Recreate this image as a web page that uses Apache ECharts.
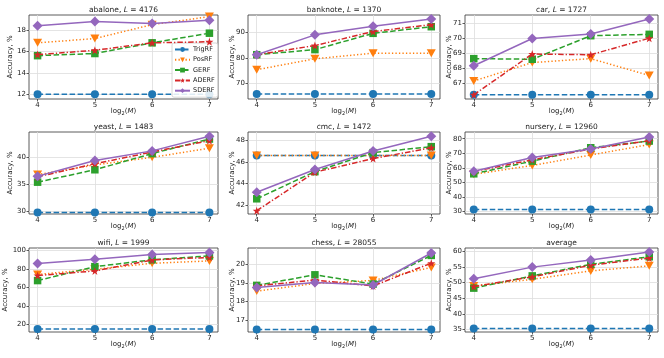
<!DOCTYPE html>
<html>
<head>
<meta charset="utf-8">
<script src="https://cdn.jsdelivr.net/npm/echarts@6/dist/echarts.min.js"></script>
<style>
  html, body { margin: 0; padding: 0; background: #ffffff; }
  #chart { width: 664px; height: 358px; }
</style>
</head>
<body>
<div id="chart"></div>
<script>
  "use strict";

  var M_LOG = [4, 5, 6, 7];
  var METHODS = ["TrigRF", "PosRF", "GERF", "ADERF", "SDERF"];
  var DATASETS = ["abalone", "banknote", "car", "yeast", "cmc", "nursery", "wifi", "chess", "average"];
  var SIZES = [4176, 1370, 1727, 1483, 1472, 12960, 1999, 28055, null];

  // accuracy, % (rows follow METHODS order)
  var abalone  = [[12.0, 12.0, 12.0, 12.0], [16.8, 17.2, 18.5, 19.25], [15.6, 15.8, 16.8, 17.7], [15.7, 16.1, 16.8, 16.9], [18.4, 18.8, 18.6, 18.9]];
  var banknote = [[65.8, 65.8, 65.8, 65.8], [75.3, 79.6, 81.8, 81.8], [81.2, 83.2, 89.6, 92.2], [81.2, 84.8, 90.3, 93.0], [81.2, 89.0, 92.4, 95.2]];
  var car      = [[66.23, 66.23, 66.23, 66.23], [67.15, 68.38, 68.64, 67.52], [68.64, 68.6, 70.17, 70.26], [66.23, 68.95, 68.9, 70.0], [68.17, 69.98, 70.29, 71.29]];
  var yeast    = [[29.8, 29.8, 29.8, 29.8], [36.8, 38.6, 40.0, 41.7], [35.4, 37.7, 40.7, 43.4], [36.4, 38.8, 41.0, 43.1], [36.5, 39.4, 41.2, 43.9]];
  var cmc      = [[46.58, 46.58, 46.58, 46.58], [46.58, 46.58, 46.58, 46.58], [42.6, 45.1, 46.85, 47.4], [41.5, 45.05, 46.3, 47.3], [43.2, 45.3, 47.0, 48.36]];
  var nursery  = [[31.4, 31.4, 31.4, 31.4], [55.6, 61.6, 68.8, 76.0], [55.9, 64.6, 73.8, 78.4], [57.5, 65.5, 73.0, 78.6], [57.7, 67.1, 73.0, 81.2]];
  var wifi     = [[15.2, 15.2, 15.2, 15.2], [74.0, 79.6, 86.0, 88.6], [67.4, 82.4, 89.8, 94.0], [72.8, 77.8, 89.6, 92.4], [85.8, 90.4, 95.4, 97.6]];
  var chess    = [[16.49, 16.49, 16.49, 16.49], [18.57, 18.98, 19.15, 19.85], [18.88, 19.45, 18.95, 20.5], [18.85, 19.17, 18.85, 20.08], [18.76, 19.04, 18.9, 20.63]];
  var average  = [[35.3, 35.3, 35.3, 35.3], [48.9, 51.0, 53.7, 55.3], [48.2, 52.1, 55.8, 58.2], [48.7, 51.8, 55.5, 57.8], [51.2, 54.9, 57.2, 59.7]];
  var VALUES = [abalone, banknote, car, yeast, cmc, nursery, wifi, chess, average];

  var X_TICKS = [4, 5, 6, 7];
  var Y_TICKS = [
    [12, 14, 16, 18],
    [70, 80, 90],
    [67, 68, 69, 70, 71],
    [30, 35, 40],
    [42, 44, 46, 48],
    [30, 40, 50, 60, 70, 80],
    [20, 40, 60, 80, 100],
    [17, 18, 19, 20],
    [35, 40, 45, 50, 55, 60]
  ];
  var Y_LIMITS = [
    [11.55, 19.4], [63.8, 96.8], [65.95, 71.55],
    [29.5, 44.7], [41.2, 48.75], [28.3, 84.6],
    [12, 102.5], [16.36, 20.9], [34.2, 61]
  ];

  var COL_LEFT = [29, 248, 465];
  var COL_WIDTH = [189, 192, 193];
  var ROW_TOP = [15, 132, 248];
  var ROW_HEIGHT = [84, 82, 84];

  var STAR = "path://M0,-10 L2.35,-3.24 L9.51,-3.09 L3.8,1.24 L5.88,8.09 L0,4 L-5.88,8.09 L-3.8,1.24 L-9.51,-3.09 L-2.35,-3.24 Z";
  var TRI_DOWN = "path://M0,0 L10,0 L5,9 Z";

  var STYLES = [
    { color: "#1f77b4", symbol: "circle", size: 8, dash: [5.5, 2.5] },
    { color: "#ff7f0e", symbol: TRI_DOWN, size: [9, 8], dash: [1.3, 2.2] },
    { color: "#2ca02c", symbol: "rect", size: 7.5, dash: [5.5, 2.5] },
    { color: "#d62728", symbol: STAR, size: 8, dash: [5.5, 2, 1.3, 2] },
    { color: "#9467bd", symbol: "diamond", size: 10, dash: "solid" }
  ];

  var FONT = "DejaVu Sans";
  var TXT = "#222222";
  var FS = 7;

  function titleText(i) {
    if (SIZES[i] == null) return "{n|" + DATASETS[i] + "}";
    return "{n|" + DATASETS[i] + ", }{i|L}{n| = " + SIZES[i] + "}";
  }

  var grids = [], xAxes = [], yAxes = [], titles = [], series = [];

  DATASETS.forEach(function (name, i) {
    var r = Math.floor(i / 3), c = i % 3;
    grids.push({
      left: COL_LEFT[c], top: ROW_TOP[r], width: COL_WIDTH[c], height: ROW_HEIGHT[r],
      show: true, borderColor: "#333333", borderWidth: 0.8, containLabel: false
    });
    titles.push({
      text: titleText(i),
      left: COL_LEFT[c] + COL_WIDTH[c] / 2,
      top: ROW_TOP[r] - 9,
      textAlign: "center",
      padding: 0,
      textStyle: {
        fontWeight: "normal",
        rich: {
          n: { fontFamily: FONT, fontSize: 7.5, color: TXT, fontWeight: "normal" },
          i: { fontFamily: FONT, fontSize: 7.5, color: TXT, fontWeight: "normal", fontStyle: "italic" }
        }
      }
    });
    xAxes.push({
      gridIndex: i, type: "value", min: 3.85, max: 7.15,
      name: "log{s|2}({i|M})", nameLocation: "middle", nameGap: 8, nameMoveOverlap: false,
      nameTextStyle: {
        fontFamily: FONT, fontSize: FS, color: TXT,
        rich: {
          n: { fontFamily: FONT, fontSize: FS, color: TXT },
          s: { fontFamily: FONT, fontSize: 5, color: TXT, verticalAlign: "bottom", padding: [4, 0, 0, 0] },
          i: { fontFamily: FONT, fontSize: FS, color: TXT, fontStyle: "italic" }
        }
      },
      axisLine: { show: false },
      axisTick: { show: true, inside: false, length: 2.5, customValues: X_TICKS, lineStyle: { color: "#333333", width: 0.8 } },
      axisLabel: { customValues: X_TICKS, fontFamily: FONT, fontSize: FS, color: TXT, margin: 3 },
      splitLine: { show: true, lineStyle: { color: "#dddddd", width: 0.8 } }
    });
    yAxes.push({
      gridIndex: i, type: "value", min: Y_LIMITS[i][0], max: Y_LIMITS[i][1],
      name: "Accuracy, %", nameLocation: "middle", nameGap: c === 0 ? 11 : 12, nameMoveOverlap: c === 0,
      nameTextStyle: { fontFamily: FONT, fontSize: FS, color: TXT },
      axisLine: { show: false },
      axisTick: { show: true, inside: false, length: 2.5, customValues: Y_TICKS[i], lineStyle: { color: "#333333", width: 0.8 } },
      axisLabel: { customValues: Y_TICKS[i], fontFamily: FONT, fontSize: FS, color: TXT, margin: 3 },
      splitLine: { show: true, lineStyle: { color: "#dddddd", width: 0.8 } }
    });
    METHODS.forEach(function (m, k) {
      var st = STYLES[k];
      series.push({
        name: m, type: "line", xAxisIndex: i, yAxisIndex: i,
        data: M_LOG.map(function (x, j) { return [x, VALUES[i][k][j]]; }),
        symbol: st.symbol, symbolSize: st.size, showSymbol: true,
        color: st.color,
        itemStyle: { color: st.color, borderWidth: 0 },
        lineStyle: { color: st.color, width: 1.5, type: st.dash },
        animation: false, z: 2 + k
      });
    });
  });

  var chart = echarts.init(document.getElementById("chart"), null, { renderer: "canvas" });
  chart.setOption({
    backgroundColor: "#ffffff",
    animation: false,
    title: titles,
    legend: {
      data: METHODS, orient: "vertical", left: 172, top: 43,
      itemWidth: 15, itemHeight: 6, itemGap: 3.3,
      padding: [3, 3, 3, 2],
      backgroundColor: "rgba(255,255,255,0.85)", borderColor: "#cccccc", borderWidth: 0.8, borderRadius: 2,
      textStyle: { fontFamily: FONT, fontSize: 6.5, color: TXT, padding: [0, 0, 0, -2] }
    },
    grid: grids, xAxis: xAxes, yAxis: yAxes, series: series
  });
</script>
</body>
</html>
